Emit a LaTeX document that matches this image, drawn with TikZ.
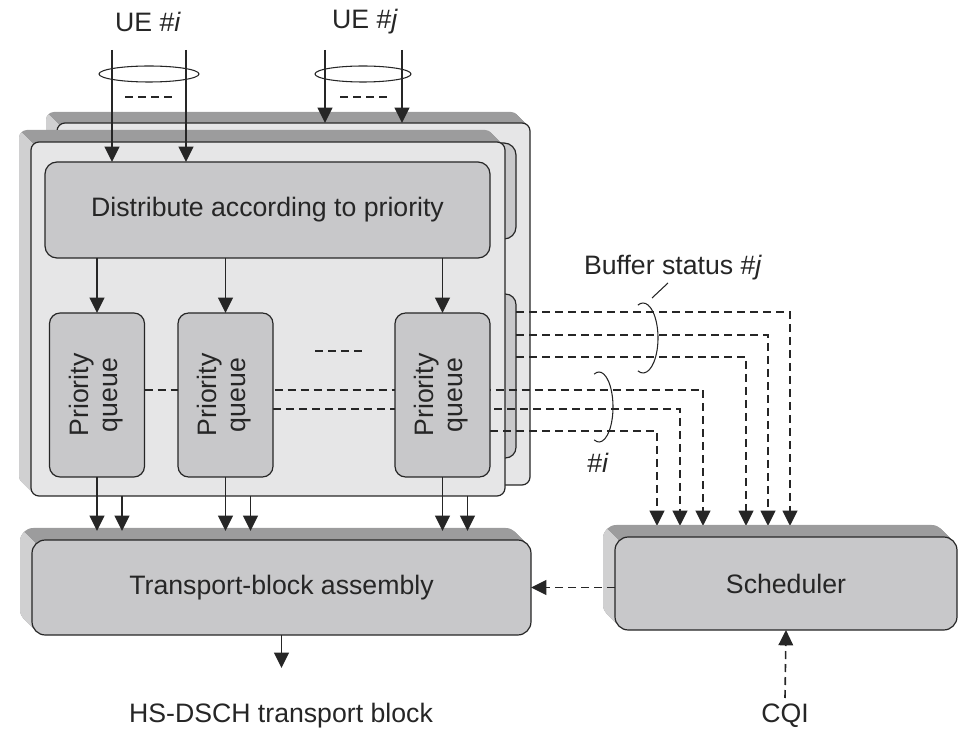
\documentclass[tikz,border=0pt]{standalone}
\usepackage{fontspec}
\setmainfont{Liberation Sans}
\usepackage{graphicx}
\usetikzlibrary{arrows.meta,calc}

\definecolor{ink}{HTML}{262626}
\definecolor{panelface}{HTML}{E6E6E7}
\definecolor{boxface}{HTML}{C8C8CA}
\definecolor{bandtop}{HTML}{9C9C9D}
\definecolor{bandside}{HTML}{D0D0D1}

\pgfdeclarelayer{bg}
\pgfdeclarelayer{mid}
\pgfsetlayers{bg,mid,main}

% Extruded edge behind a rounded face: #1,#2 top-left and #3,#4 bottom-right
% corners of the face, #5 depth, #6 corner radius.
\newcommand\slab[6]{%
  \foreach \k in {1,...,#5}{%
    \fill[bandtop,rounded corners=#6] (#1-\k,#2-\k) rectangle (#3-\k,#4-\k);}%
  \begin{scope}
    \clip (#1-#5-6,#2-#5-6) -- (#1+3,#2+3) -- (#1+3,#4+6) -- (#1-#5-6,#4+6) -- cycle;
    \foreach \k in {1,...,#5}{%
      \fill[bandside,rounded corners=#6] (#1-\k,#2-\k) rectangle (#3-\k,#4-\k);}%
  \end{scope}}

\begin{document}
\begin{tikzpicture}[x=0.75pt,y=-0.75pt,
  lbl/.style={font=\fontsize{20}{21.5}\selectfont, text=ink, inner sep=0pt},
  panel/.style={draw=ink, fill=panelface, line width=0.9pt, rounded corners=6pt,
    inner sep=0pt, outer sep=0pt},
  box/.style={lbl, draw=ink, fill=boxface, line width=0.9pt, rounded corners=9pt,
    inner sep=0pt, outer sep=0pt},
  pqbox/.style={box, rounded corners=8pt, minimum width=95*0.75pt, minimum height=164*0.75pt},
  arr/.style={draw=ink, line width=1.3pt, -{Triangle[length=11.5pt,width=11pt]}},
  dline/.style={draw=ink, line width=1.2pt, dash pattern=on 6pt off 3.75pt},
  darr/.style={arr, line width=1.2pt, dash pattern=on 6pt off 3.75pt},
  fine/.style={draw=ink, line width=0.8pt}]
\useasboundingbox (0,0) rectangle (965,734);

% ---------------- stacked per-UE panels ----------------
\begin{pgfonlayer}{bg}
  % panel of UE #j (behind)
  \slab{57}{123}{530}{485}{11}{6pt}
  \node[panel, minimum width=473*0.75pt, minimum height=362*0.75pt] (back) at (293.5,304) {};
  \node[box, minimum width=445*0.75pt, minimum height=96*0.75pt] (bdist) at (293.5,191) {};
  \node[pqbox] (bpq) at (468.5,376) {};
  % panel of UE #i (front)
  \slab{31}{142}{505}{496}{12}{6pt}
  \node[panel, minimum width=474*0.75pt, minimum height=354*0.75pt] (front) at (268,319) {};
\end{pgfonlayer}

\node[box, minimum width=445*0.75pt, minimum height=96*0.75pt] (dist) at (267.5,210)
  {Distribute according to priority};
\node[pqbox] (pq1) at (97,395) {\rotatebox{90}{\begin{tabular}{@{}c@{}}Priority\\queue\end{tabular}}};
\node[pqbox] (pq2) at (225.5,395) {\rotatebox{90}{\begin{tabular}{@{}c@{}}Priority\\queue\end{tabular}}};
\node[pqbox] (pq3) at (442.5,395) {\rotatebox{90}{\begin{tabular}{@{}c@{}}Priority\\queue\end{tabular}}};
\draw[dline] (315,351) -- (362,351);

% ---------------- assembly and scheduler ----------------
\slab{32}{540}{531}{635}{12}{10pt}
\node[box, rounded corners=10pt, minimum width=499*0.75pt, minimum height=95*0.75pt] (tba) at (281.5,587.5)
  {Transport-block assembly};
\slab{615}{537}{957}{630}{12}{10pt}
\node[box, rounded corners=10pt, minimum width=342*0.75pt, minimum height=93*0.75pt] (sched) at (786,583.5)
  {Scheduler};

% ---------------- inputs ----------------
\node[lbl] (uei) at (148,22) {UE \#\textit{i}};
\node[lbl] (uej) at (365,22) {UE \#\textit{j}};
\coordinate (ui1) at (112,50);
\coordinate (ui2) at (186,50);
\coordinate (uj1) at (325,50);
\coordinate (uj2) at (402,50);
\draw[fine] (149,74) ellipse [x radius=50, y radius=8];
\draw[fine] (363,74) ellipse [x radius=48, y radius=8];
\draw[arr] (ui1) -- (ui1 |- dist.north);
\draw[arr] (ui2) -- (ui2 |- dist.north);
\draw[arr] (uj1) -- (uj1 |- back.north);
\draw[arr] (uj2) -- (uj2 |- back.north);
\draw[dline] (125,97) -- (172,97);
\draw[dline] (340,97) -- (388,97);

% ---------------- distribution to queues ----------------
\draw[arr] (dist.south -| pq1) -- (pq1.north);
\draw[arr] (dist.south -| pq2) -- (pq2.north);
\draw[arr] (dist.south -| pq3) -- (pq3.north);

% ---------------- queues to assembly ----------------
\coordinate (tip) at (0,531);
\path (pq1.south) ++(25,0) coordinate (pq1b);
\path (pq2.south) ++(25,0) coordinate (pq2b);
\path (pq3.south) ++(25,0) coordinate (pq3b);
\foreach \q in {pq1,pq2,pq3}{
  \draw[arr] (\q.south) -- (\q.south |- tip);
  \draw[arr] (\q b |- front.south) -- (\q b |- tip);
}

% ---------------- buffer status reports ----------------
\coordinate (s1) at (657,526);
\coordinate (s2) at (680,526);
\coordinate (s3) at (703,526);
\coordinate (s4) at (746,526);
\coordinate (s5) at (768,526);
\coordinate (s6) at (790,526);
\coordinate (yi1) at (0,390);
\coordinate (yi2) at (0,409);
\coordinate (yi3) at (0,431);
\coordinate (yj1) at (0,312);
\coordinate (yj2) at (0,335);
\coordinate (yj3) at (0,357);
\begin{pgfonlayer}{mid}
  \draw[darr] (pq1.east |- yi1) -| (s3);
  \draw[darr] (pq2.east |- yi2) -| (s2);
  \draw[darr] (pq3.east |- yi3) -| (s1);
  \draw[darr] (bpq.east |- yj1) -| (s6);
  \draw[darr] (bpq.east |- yj2) -| (s5);
  \draw[darr] (bpq.east |- yj3) -| (s4);
\end{pgfonlayer}
\draw[fine] (643,338) ++(110:15 and 35) arc[start angle=110, end angle=-110, x radius=15, y radius=35];
\draw[fine] (652,298) -- (668,283);
\draw[fine] (599,407) ++(110:14 and 35) arc[start angle=110, end angle=-110, x radius=14, y radius=35];
\node[lbl] (bsj) at (673,268) {Buffer status \#\textit{j}};
\node[lbl] (hi) at (598,463) {\#\textit{i}};

% ---------------- outputs ----------------
\node[lbl] (hs) at (281,716) {HS-DSCH transport block};
\node[lbl] (cqi) at (785,716) {CQI};
\coordinate (hstip) at (0,668);
\coordinate (cqifoot) at (785,698);
\draw[arr] (tba.south) -- (tba.south |- hstip);
\draw[darr] (cqifoot) -- (sched.south);
\draw[darr] (sched.west |- tba.east) -- (tba.east);
\end{tikzpicture}
\end{document}
